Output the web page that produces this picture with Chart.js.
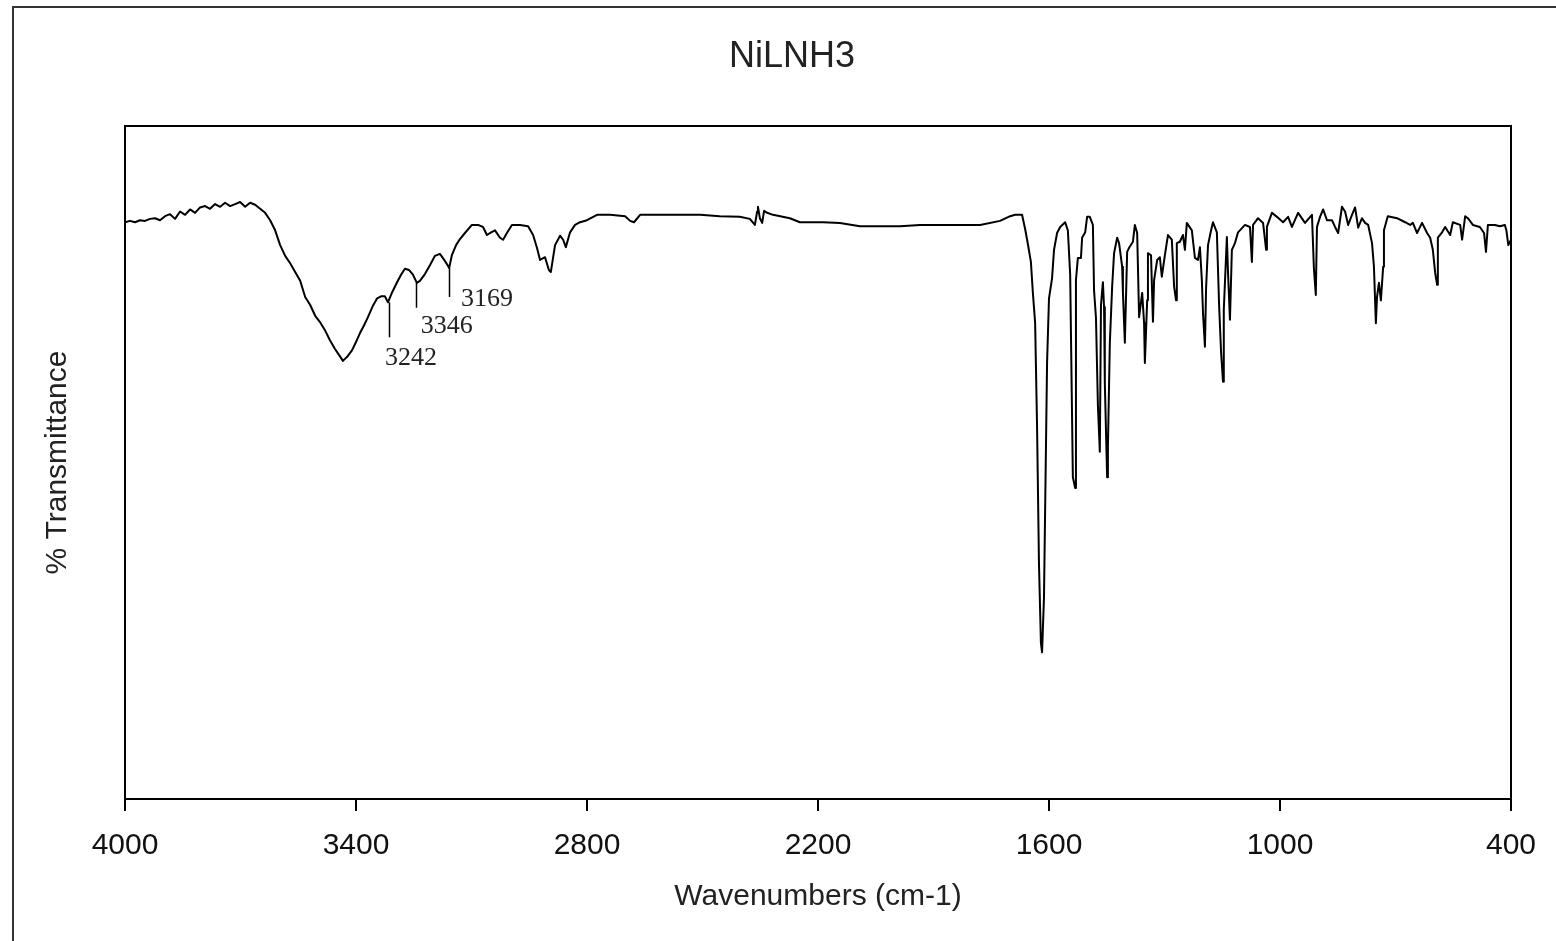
<!DOCTYPE html>
<html>
<head>
<meta charset="utf-8">
<title>NiLNH3</title>
<script src="https://cdn.jsdelivr.net/npm/chart.js@4.4.1/dist/chart.umd.min.js"></script>
<style>
    html, body { margin: 0; padding: 0; background: #fff; }
    #wrap { position: relative; width: 1556px; height: 941px; overflow: hidden; }
    #frame {
        position: absolute; left: 12px; top: 6px; width: 1600px; height: 1000px;
        border-top: 2px solid #333; border-left: 2px solid #333; pointer-events: none;
    }
</style>
</head>
<body>
<div id="wrap">
    <canvas id="irChart" width="1556" height="941"></canvas>
    <div id="frame"></div>
</div>
<script>
// IR spectrum (cm-1 / %T)
const wavenumbers = [
    4000, 3987, 3974, 3961, 3948, 3935, 3922, 3909, 3896, 3883, 3870, 3857, 3844, 3831, 3818, 3805,
    3792, 3779, 3766, 3753, 3740, 3727, 3714, 3701, 3688, 3675, 3662, 3649, 3636, 3623, 3610, 3597,
    3584, 3571, 3558, 3545, 3532, 3519, 3506, 3494, 3481, 3468, 3455, 3442, 3434, 3423, 3410, 3400,
    3390, 3379, 3369, 3356, 3345, 3335, 3325, 3317, 3306, 3294, 3283, 3273, 3262, 3252, 3242, 3234,
    3221, 3208, 3195, 3182, 3171, 3164, 3158, 3151, 3140, 3130, 3117, 3099, 3083, 3070, 3060, 3049,
    3039, 3026, 3018, 3008, 2995, 2974, 2953, 2940, 2930, 2922, 2909, 2899, 2894, 2883, 2870, 2862,
    2855, 2844, 2831, 2818, 2800, 2774, 2740, 2701, 2688, 2678, 2662, 2610, 2558, 2506, 2455, 2403,
    2377, 2364, 2358, 2356, 2351, 2345, 2340, 2332, 2317, 2273, 2247, 2187, 2143, 2091, 2039, 1987,
    1935, 1883, 1831, 1779, 1727, 1701, 1688, 1670, 1662, 1655, 1647, 1642, 1636, 1631, 1626, 1621,
    1618, 1613, 1608, 1605, 1600, 1592, 1587, 1579, 1571, 1558, 1551, 1545, 1538, 1532, 1530, 1525,
    1517, 1514, 1506, 1501, 1494, 1486, 1483, 1478, 1473, 1468, 1465, 1460, 1457, 1455, 1449, 1447,
    1442, 1436, 1431, 1423, 1418, 1410, 1408, 1403, 1397, 1392, 1382, 1377, 1371, 1366, 1358, 1353,
    1351, 1345, 1343, 1335, 1330, 1327, 1319, 1312, 1307, 1299, 1291, 1281, 1275, 1270, 1268, 1260,
    1252, 1247, 1242, 1229, 1221, 1213, 1208, 1203, 1200, 1195, 1192, 1187, 1179, 1174, 1164, 1158,
    1153, 1148, 1146, 1138, 1135, 1130, 1125, 1117, 1109, 1091, 1078, 1073, 1070, 1057, 1044, 1036,
    1034, 1021, 1008, 992, 979, 969, 953, 935, 917, 912, 907, 904, 896, 888, 878, 865,
    857, 849, 839, 831, 823, 813, 805, 797, 787, 779, 771, 761, 756, 751, 748, 743,
    738, 732, 730, 720, 696, 675, 662, 655, 644, 631, 618, 610, 603, 597, 592, 590,
    579, 571, 558, 551, 532, 527, 519, 512, 499, 481, 470, 465, 460, 442, 429, 416,
    412, 407, 400
];
const transmittance = [
    85.7, 85.9, 85.7, 86.0, 85.9, 86.2, 86.3, 86.0, 86.6, 86.9, 86.2, 87.3, 86.8, 87.6, 87.1, 87.9,
    88.1, 87.7, 88.4, 88.0, 88.6, 88.1, 88.4, 88.7, 88.0, 88.6, 88.3, 87.7, 87.1, 86.0, 84.5, 82.3,
    80.7, 79.6, 78.3, 77.0, 74.6, 73.4, 71.8, 70.9, 69.7, 68.2, 66.9, 65.8, 65.1, 65.7, 66.7, 67.9,
    69.2, 70.4, 71.6, 73.3, 74.4, 74.7, 74.7, 73.8, 75.3, 76.7, 77.9, 78.8, 78.6, 77.9, 76.7, 77.0,
    78.0, 79.3, 80.7, 81.0, 80.1, 79.5, 78.9, 80.8, 82.3, 83.2, 84.1, 85.3, 85.3, 85.0, 83.8, 84.2,
    84.5, 83.4, 83.1, 84.1, 85.3, 85.3, 85.1, 83.8, 81.9, 80.1, 80.5, 78.6, 78.3, 82.3, 83.7, 83.1,
    82.0, 84.2, 85.3, 85.7, 86.0, 86.8, 86.8, 86.6, 85.9, 85.7, 86.8, 86.8, 86.8, 86.8, 86.6, 86.5,
    86.2, 85.3, 87.3, 88.0, 86.3, 85.6, 87.4, 87.1, 86.8, 86.3, 85.7, 85.7, 85.6, 85.1, 85.1, 85.1,
    85.3, 85.3, 85.3, 85.3, 85.9, 86.6, 86.8, 86.8, 84.7, 82.5, 79.8, 75.3, 70.7, 55.3, 34.8, 23.2,
    21.8, 30.0, 51.9, 64.9, 74.4, 77.4, 81.6, 84.1, 85.0, 85.7, 84.5, 77.9, 47.8, 46.2, 77.1, 80.4,
    80.4, 83.4, 84.2, 86.5, 86.5, 85.3, 75.6, 71.5, 58.5, 51.6, 73.4, 76.8, 73.1, 61.8, 47.8, 52.2,
    67.8, 76.1, 81.1, 83.4, 82.6, 79.1, 75.3, 67.8, 81.3, 81.9, 82.8, 85.3, 84.1, 71.6, 75.2, 70.7,
    64.8, 74.1, 81.1, 80.8, 70.9, 77.1, 80.1, 80.5, 77.6, 80.8, 83.8, 83.1, 76.1, 74.1, 82.6, 82.8,
    83.8, 81.6, 85.6, 84.5, 80.4, 80.1, 82.0, 77.1, 72.2, 67.2, 75.9, 82.3, 84.5, 85.7, 84.2, 73.1,
    66.3, 62.0, 72.7, 83.5, 78.2, 71.2, 81.6, 82.6, 84.2, 85.3, 85.0, 79.8, 85.3, 86.3, 85.6, 81.6,
    85.0, 87.1, 86.5, 85.7, 86.5, 85.0, 87.1, 85.6, 86.8, 78.9, 74.9, 85.0, 86.5, 87.6, 86.0, 86.0,
    85.0, 84.1, 88.0, 87.3, 85.3, 86.8, 87.9, 84.9, 86.3, 85.6, 85.3, 82.6, 79.1, 70.7, 74.6, 76.7,
    74.1, 79.1, 84.5, 86.6, 86.3, 85.7, 85.3, 85.6, 84.1, 85.6, 84.1, 83.4, 81.6, 78.2, 76.4, 83.4,
    84.2, 85.0, 83.8, 85.7, 85.3, 83.1, 86.6, 86.3, 85.3, 85.0, 84.1, 81.3, 85.3, 85.3, 85.1, 85.3,
    84.5, 82.3, 83.1
];
const xTicks = [4000, 3400, 2800, 2200, 1600, 1000, 400];

// peak marks written on the picture
const peakLabels = ['3242', '3346', '3169'];
const peakMarkWn = [3314, 3243, 3158];
const peakMarkTop = [73.8, 76.7, 78.9];
const peakMarkBottom = [68.6, 73.0, 74.6];
const peakTextWn = [3257, 3164, 3060];
const peakTextT = [65.5, 70.3, 74.3];

const sansFont = '"Liberation Sans", Arial, sans-serif';

const boxPlugin = {
    id: 'plotBox',
    afterDraw: (chart) => {
        const { ctx, chartArea } = chart;
        ctx.save();
        ctx.strokeStyle = '#000';
        ctx.lineWidth = 2;
        ctx.strokeRect(chartArea.left, chartArea.top, chartArea.right - chartArea.left, chartArea.bottom - chartArea.top);
        ctx.restore();
    },
};

const peakPlugin = {
    id: 'peakMarks',
    afterDraw: (chart) => {
        const { ctx } = chart;
        const xs = chart.scales.x;
        const ys = chart.scales.y;
        ctx.save();
        ctx.strokeStyle = '#000';
        ctx.lineWidth = 1.5;
        ctx.fillStyle = '#222';
        ctx.font = '26px "Liberation Serif", "Times New Roman", serif';
        ctx.textAlign = 'center';
        ctx.textBaseline = 'middle';
        peakLabels.forEach((label, i) => {
            const px = Math.round(xs.getPixelForValue(peakMarkWn[i])) + 0.5;
            ctx.beginPath();
            ctx.moveTo(px, ys.getPixelForValue(peakMarkTop[i]));
            ctx.lineTo(px, ys.getPixelForValue(peakMarkBottom[i]));
            ctx.stroke();
            ctx.fillText(label, xs.getPixelForValue(peakTextWn[i]), ys.getPixelForValue(peakTextT[i]));
        });
        ctx.restore();
    },
};

const titlePlugin = {
    id: 'topTitle',
    afterDraw: (chart) => {
        const { ctx } = chart;
        ctx.save();
        ctx.font = '36px ' + sansFont;
        ctx.fillStyle = '#222';
        ctx.textAlign = 'center';
        ctx.textBaseline = 'middle';
        ctx.fillText('NiLNH3', 792, 57);
        ctx.restore();
    },
};

const ctx = document.getElementById('irChart');
const irChart = new Chart(ctx, {
    type: 'line',
    data: {
        datasets: [
            {
                label: 'NiLNH3',
                data: wavenumbers.map((w, i) => ({ x: w, y: transmittance[i] })),
                borderColor: '#000',
                borderWidth: 2,
                borderJoinStyle: 'round',
                pointRadius: 0,
                tension: 0,
                fill: false,
            },
        ],
    },
    options: {
        responsive: false,
        animation: false,
        devicePixelRatio: 1,
        layout: {
            padding: { top: 126, right: 45, bottom: 0, left: 0 },
        },
        plugins: {
            legend: { display: false },
            tooltip: { enabled: false },
            title: { display: false },
        },
        scales: {
            x: {
                type: 'linear',
                reverse: true,
                min: 400,
                max: 4000,
                afterBuildTicks: (scale) => {
                    scale.ticks = xTicks.map((v) => ({ value: v }));
                },
                afterFit: (scale) => {
                    scale.height = 142;
                },
                ticks: {
                    font: { family: sansFont, size: 30 },
                    color: '#111',
                    padding: 17,
                    maxRotation: 0,
                    autoSkip: false,
                    callback: (value) => String(value),
                },
                grid: {
                    display: true,
                    drawOnChartArea: false,
                    drawTicks: true,
                    tickLength: 12,
                    color: '#000',
                    lineWidth: 2,
                },
                border: { display: true, color: '#000', width: 2 },
                title: {
                    display: true,
                    text: 'Wavenumbers (cm-1)',
                    font: { family: sansFont, size: 30 },
                    color: '#222',
                    padding: { top: 0, bottom: 26 },
                },
            },
            y: {
                min: 0,
                max: 100,
                afterFit: (scale) => {
                    scale.width = 125;
                },
                ticks: { display: false },
                grid: { display: false },
                border: { display: true, color: '#000', width: 2 },
                title: {
                    display: true,
                    text: '% Transmittance',
                    font: { family: sansFont, size: 30 },
                    color: '#222',
                    padding: { top: 40, bottom: 0 },
                },
            },
        },
    },
    plugins: [boxPlugin, peakPlugin, titlePlugin],
});
</script>
</body>
</html>
